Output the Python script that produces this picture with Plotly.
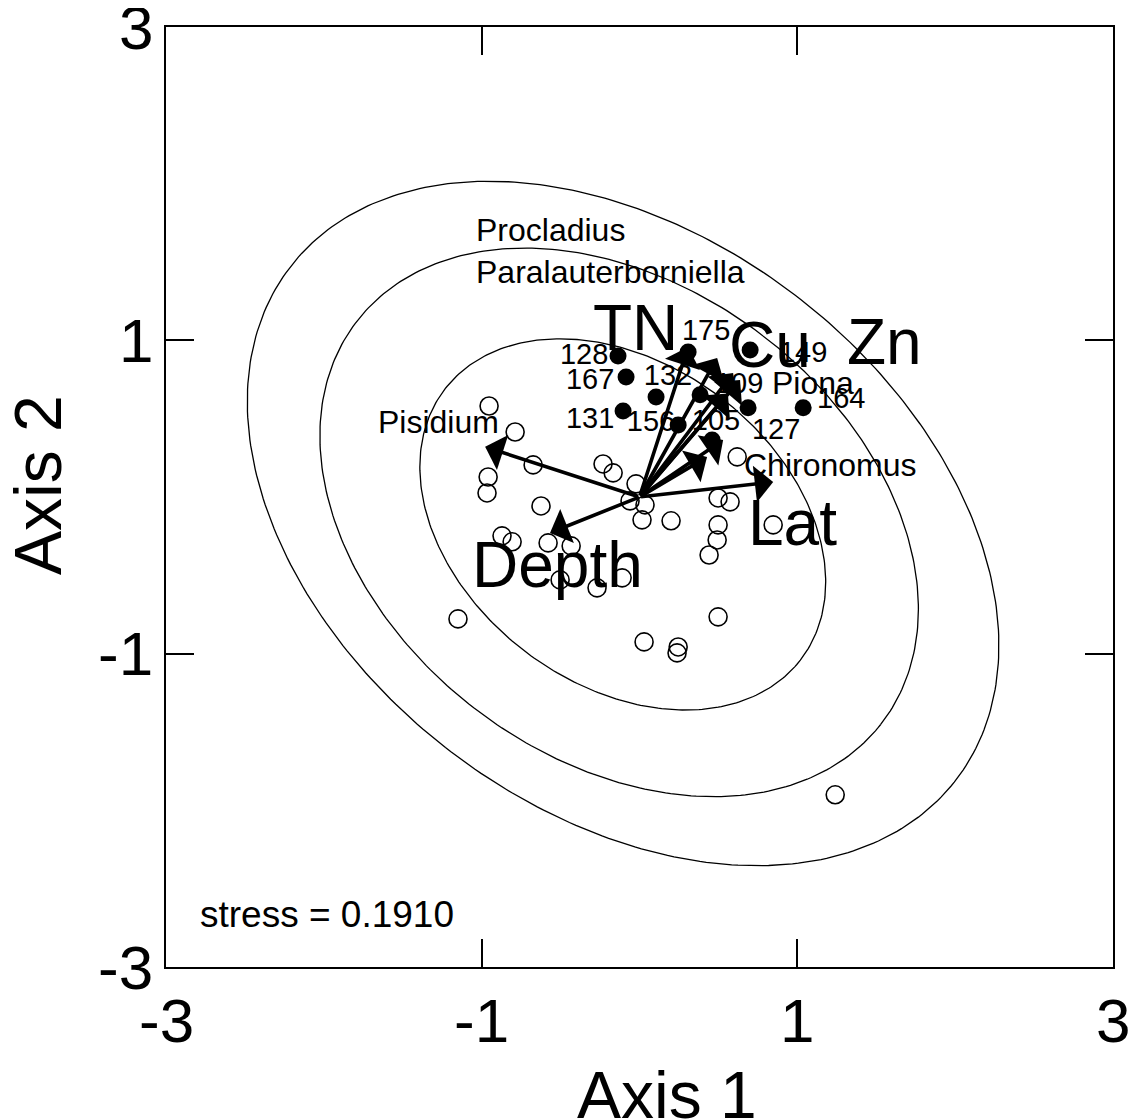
import numpy as np
import plotly.graph_objects as go

# ---------------- data ----------------
# open circles (other sites)
open_x = [-0.953, -0.788, -0.959, -0.966, -0.674, -0.624, -0.231, -0.167, -0.022, -0.060,
          0.035, 0.016, 0.200, -0.871, -0.807, -0.579, -0.433, -0.503, -0.269, -0.110,
          -1.150, 0.029, 0.245, 0.238, 0.498, 0.498, 0.574, 0.498, 0.492, 0.441,
          0.847, 0.619, 1.240]
open_y = [0.581, 0.415, 0.128, 0.026, 0.205, -0.057, 0.211, 0.154, 0.084, -0.025,
          -0.050, -0.146, -0.152, -0.248, -0.286, -0.293, -0.312, -0.529, -0.580, -0.516,
          -0.778, -0.925, -0.957, -0.995, -0.765, -0.006, -0.031, -0.178, -0.274, -0.370,
          -0.178, 0.256, -1.901]

# filled circles (labelled sites)
site_x = [-0.136, -0.085, -0.104, 0.105, 0.245, 0.688, 1.037, 0.701, 0.384, 0.308, 0.460]
site_y = [0.900, 0.766, 0.549, 0.639, 0.460, 0.569, 0.569, 0.939, 0.652, 0.926, 0.364]

site_labels = ["128", "167", "131", "132", "156", "127", "164", "149", "109", "175", "105"]
site_label_x = [-0.351, -0.313, -0.313, 0.181, 0.073, 0.866, 1.278, 1.037, 0.631, 0.422, 0.485]
site_label_y = [0.894, 0.735, 0.486, 0.760, 0.467, 0.415, 0.613, 0.907, 0.709, 1.047, 0.473]

# species labels (left edge of text)
species = ["Procladius", "Paralauterborniella", "Pisidium", "Chironomus", "Piona"]
species_x = [-1.048, -1.048, -1.669, 0.650, 0.828]
species_y = [1.705, 1.436, 0.479, 0.205, 0.728]

# environmental vectors (tips, origin at 0,0)
vec_x = [-0.978, -0.567, 0.847, 0.308, 0.492, 0.593, 0.637, 0.560, 0.530, 0.428]
vec_y = [0.320, -0.229, 0.096, 0.958, 0.888, 0.792, 0.747, 0.660, 0.364, 0.255]

vec_names = ["TN", "Cu", "Zn", "Lat", "Depth"]
vec_label_x = [-0.028, 0.828, 1.550, 0.967, -0.522]
vec_label_y = [1.079, 0.971, 0.990, -0.165, -0.433]

# confidence ellipses: centre x, centre y, semi-major, semi-minor, angle (deg)
ell_cx = [-0.104, -0.129, -0.106]
ell_cy = [-0.169, -0.162, -0.175]
ell_a = [2.67, 2.10, 1.42]
ell_b = [1.82, 1.50, 1.02]
ell_ang = [-38.2, -37.9, -37.6]

tick_vals = [-3, -1, 1, 3]
tick_text = ["-3", "-1", "1", "3"]
stress_text = "stress = 0.1910"

# ---------------- figure ----------------
FONT = "Arial, 'Liberation Sans', Helvetica, sans-serif"
fig = go.Figure()

t = np.linspace(0, 2 * np.pi, 361)
for cx, cy, a, b, ang in zip(ell_cx, ell_cy, ell_a, ell_b, ell_ang):
    th = np.deg2rad(ang)
    ex = cx + a * np.cos(th) * np.cos(t) - b * np.sin(th) * np.sin(t)
    ey = cy + a * np.sin(th) * np.cos(t) + b * np.cos(th) * np.sin(t)
    fig.add_trace(go.Scatter(x=ex, y=ey, mode="lines",
                             line=dict(color="black", width=1.3),
                             hoverinfo="skip", showlegend=False))

fig.add_trace(go.Scatter(x=open_x, y=open_y, mode="markers",
                         marker=dict(symbol="circle-open", size=18, color="black",
                                     line=dict(width=1.6, color="black")),
                         showlegend=False))
fig.add_trace(go.Scatter(x=site_x, y=site_y, mode="markers",
                         marker=dict(symbol="circle", size=17, color="black"),
                         showlegend=False))

fig.add_trace(go.Scatter(x=site_label_x, y=site_label_y, mode="text", text=site_labels,
                         textfont=dict(family=FONT, size=29, color="black"),
                         showlegend=False))

annotations = []
for vx, vy in zip(vec_x, vec_y):
    annotations.append(dict(x=vx, y=vy, ax=0, ay=0, xref="x", yref="y",
                            axref="x", ayref="y", text="", showarrow=True,
                            arrowhead=1, arrowsize=1.7, arrowwidth=3.6,
                            arrowcolor="black"))

for name, sx, sy in zip(species, species_x, species_y):
    annotations.append(dict(x=sx, y=sy, xref="x", yref="y", text=name,
                            showarrow=False, xanchor="left", yanchor="middle",
                            font=dict(family=FONT, size=32, color="black")))

for name, lx, ly in zip(vec_names, vec_label_x, vec_label_y):
    annotations.append(dict(x=lx, y=ly, xref="x", yref="y", text=name,
                            showarrow=False, xanchor="center", yanchor="middle",
                            font=dict(family=FONT, size=64, color="black")))

annotations.append(dict(x=-2.797, y=-2.667, xref="x", yref="y", text=stress_text,
                        showarrow=False, xanchor="left", yanchor="middle",
                        font=dict(family=FONT, size=37, color="black")))

# tick labels
for v, s in zip(tick_vals, tick_text):
    annotations.append(dict(x=v, y=-0.0564, xref="x", yref="paper", text=s,
                            showarrow=False, xanchor="center", yanchor="middle",
                            font=dict(family=FONT, size=62, color="black")))
    annotations.append(dict(x=-0.0116, y=v, xref="paper", yref="y", text=s,
                            showarrow=False, xanchor="right", yanchor="middle",
                            font=dict(family=FONT, size=62, color="black")))

annotations.append(dict(x=0.529, y=-0.136, xref="paper", yref="paper", text="Axis 1",
                        showarrow=False, xanchor="center", yanchor="middle",
                        font=dict(family=FONT, size=66, color="black")))
annotations.append(dict(x=-0.135, y=0.513, xref="paper", yref="paper", text="Axis 2",
                        showarrow=False, xanchor="center", yanchor="middle", textangle=-90,
                        font=dict(family=FONT, size=66, color="black")))

axis_common = dict(range=[-3, 3], showgrid=False, zeroline=False, showline=True,
                   linecolor="black", linewidth=2, mirror="ticks", ticks="inside",
                   ticklen=28, tickwidth=2, tickcolor="black",
                   tickvals=tick_vals, showticklabels=False)

fig.update_layout(
    width=1134, height=1112,
    margin=dict(l=158, r=29, t=19, b=153),
    paper_bgcolor="white", plot_bgcolor="white",
    xaxis=dict(**axis_common),
    yaxis=dict(**axis_common),
    annotations=annotations,
    showlegend=False,
)

fig.write_html("out.html")
